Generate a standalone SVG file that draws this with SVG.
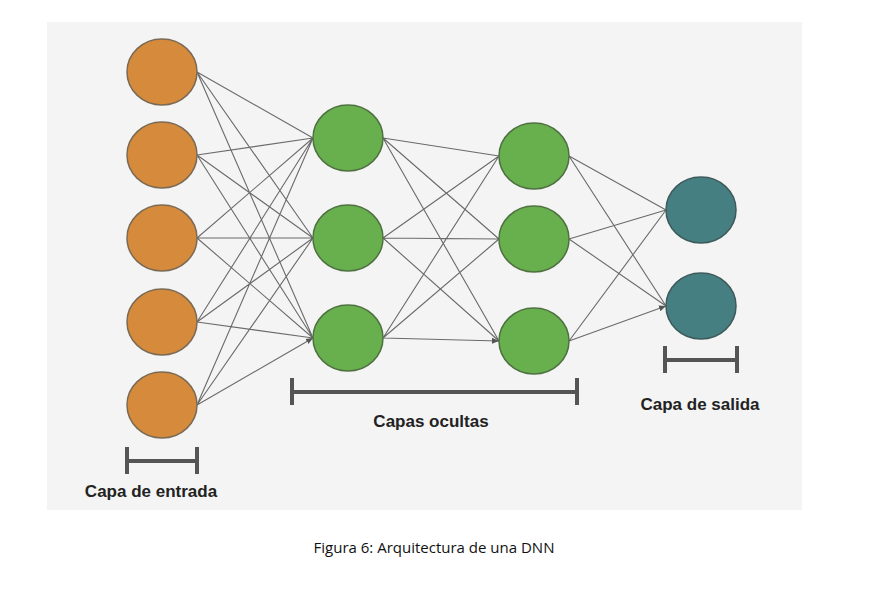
<svg xmlns="http://www.w3.org/2000/svg" width="881" height="598" viewBox="0 0 881 598">
<style>
.in{fill:#d68a3c;stroke:#7a6a55;stroke-width:1.5}
.hd{fill:#67b04d;stroke:#4f7040;stroke-width:1.5}
.out{fill:#467f82;stroke:#3d5a5c;stroke-width:1.5}
.e{stroke:#6a6a6a;stroke-width:1.1;fill:none;marker-end:url(#a)}
.br{stroke:#555;stroke-width:4;fill:none}
.lb{font-family:"Liberation Sans",Arial,sans-serif;font-weight:bold;font-size:17px;fill:#222;text-anchor:middle}
</style>
<defs><marker id="a" markerWidth="8" markerHeight="8" refX="7" refY="4" orient="auto" markerUnits="userSpaceOnUse"><path d="M0,1 L7,4 L0,7 Z" fill="#555"/></marker></defs>
<rect width="881" height="598" fill="#fff"/>
<rect x="47" y="22" width="755" height="488" fill="#f4f4f4"/>
<g id="connectors">
<path class="e" d="M197,72L313,138M197,72L313,238M197,72L313,338M197,155L313,138M197,155L313,238M197,155L313,338M197,238L313,138M197,238L313,238M197,238L313,338M197,322L313,138M197,322L313,238M197,322L313,338M197,405L313,138M197,405L313,238M197,405L313,338"/>
<path class="e" d="M383,138L499,156M383,138L499,239M383,138L499,341M383,238L499,156M383,238L499,239M383,238L499,341M383,338L499,156M383,338L499,239M383,338L499,341"/>
<path class="e" d="M569,156L666,210M569,156L666,306M569,239L666,210M569,239L666,306M569,341L666,210M569,341L666,306"/>
</g>
<g id="in1"><ellipse class="in" cx="162" cy="72" rx="35" ry="33"/></g>
<g id="in2"><ellipse class="in" cx="162" cy="155" rx="35" ry="33"/></g>
<g id="in3"><ellipse class="in" cx="162" cy="238" rx="35" ry="33"/></g>
<g id="in4"><ellipse class="in" cx="162" cy="322" rx="35" ry="33"/></g>
<g id="in5"><ellipse class="in" cx="162" cy="405" rx="35" ry="33"/></g>
<g id="h1a"><ellipse class="hd" cx="348" cy="138" rx="35" ry="33"/></g>
<g id="h1b"><ellipse class="hd" cx="348" cy="238" rx="35" ry="33"/></g>
<g id="h1c"><ellipse class="hd" cx="348" cy="338" rx="35" ry="33"/></g>
<g id="h2a"><ellipse class="hd" cx="534" cy="156" rx="35" ry="33"/></g>
<g id="h2b"><ellipse class="hd" cx="534" cy="239" rx="35" ry="33"/></g>
<g id="h2c"><ellipse class="hd" cx="534" cy="341" rx="35" ry="33"/></g>
<g id="o1"><ellipse class="out" cx="701" cy="210" rx="35" ry="33"/></g>
<g id="o2"><ellipse class="out" cx="701" cy="306" rx="35" ry="33"/></g>
<g id="brackets">
<path class="br" d="M127,447V474M197,447V474M127,461H197"/>
<path class="br" d="M292,378V405M577,378V405M292,392H577"/>
<path class="br" d="M665,346V373M737,346V373M665,360H737"/>
</g>
<text class="lb" x="151" y="497">Capa de entrada</text>
<text class="lb" x="431" y="427">Capas ocultas</text>
<text class="lb" x="700" y="410">Capa de salida</text>
<text x="434" y="553" font-family="'Open Sans','Liberation Sans',sans-serif" font-size="15" fill="#111" text-anchor="middle">Figura 6: Arquitectura de una DNN</text>
</svg>
